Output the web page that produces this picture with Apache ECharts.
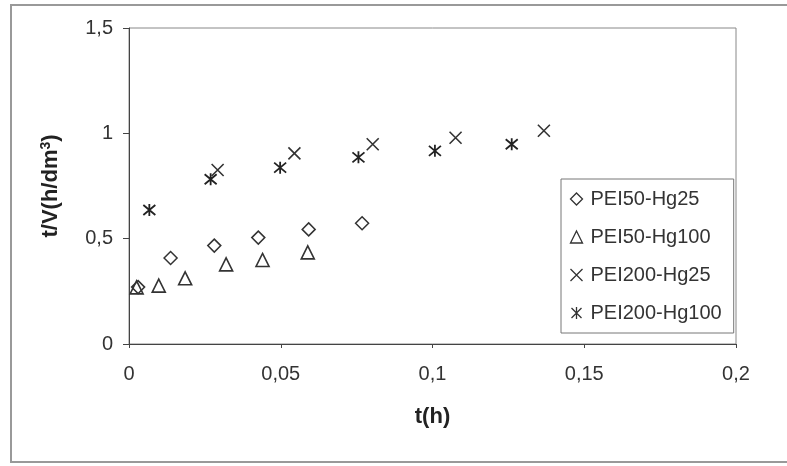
<!DOCTYPE html>
<html>
<head>
<meta charset="utf-8">
<script src="https://cdn.jsdelivr.net/npm/echarts@6/dist/echarts.min.js"></script>
<style>
html,body{margin:0;padding:0;background:#fff;}
#c{width:787px;height:466px;}
</style>
</head>
<body>
<div id="c"></div>
<script>
// ---- data ----
const seriesNames = ['PEI50-Hg25', 'PEI50-Hg100', 'PEI200-Hg25', 'PEI200-Hg100'];
const pei50Hg25_t  = [0.003, 0.0137, 0.0281, 0.0426, 0.0592, 0.0768];
const pei50Hg25_v  = [0.27, 0.408, 0.467, 0.505, 0.544, 0.573];
const pei50Hg100_t = [0.0025, 0.0098, 0.0185, 0.032, 0.044, 0.0589];
const pei50Hg100_v = [0.269, 0.277, 0.312, 0.378, 0.399, 0.435];
const pei200Hg25_t = [0.0292, 0.0545, 0.0803, 0.1076, 0.1367];
const pei200Hg25_v = [0.826, 0.905, 0.948, 0.979, 1.012];
const pei200Hg100_t = [0.0067, 0.0269, 0.0498, 0.0756, 0.1008, 0.1261];
const pei200Hg100_v = [0.636, 0.782, 0.837, 0.886, 0.917, 0.948];
const xTicks = [0, 0.05, 0.1, 0.15, 0.2];
const yTicks = [0, 0.5, 1, 1.5];

const zip = (a, b) => a.map((v, i) => [v, b[i]]);
const fmt = v => String(+v.toFixed(4)).replace('.', ',');
const FONT = 'Liberation Sans, Arial, sans-serif';
const INK = '#333';

const xPath = 'path://M0 0L10 10M10 0L0 10';
const astPath = 'path://M0 0L10 10M10 0L0 10M5 -1L5 11';

const chart = echarts.init(document.getElementById('c'), null, {renderer: 'canvas'});
chart.setOption({
  backgroundColor: '#fff',
  animation: false,
  textStyle: {fontFamily: FONT},
  graphic: [{
    type: 'rect', silent: true, z: -10,
    shape: {x: 11, y: 5, width: 800, height: 457},
    style: {fill: 'none', stroke: '#999', lineWidth: 2}
  }],
  grid: {
    left: 129, top: 28, right: 51, bottom: 122,
    show: true, borderColor: '#888', borderWidth: 1, backgroundColor: 'transparent'
  },
  xAxis: {
    type: 'value', min: xTicks[0], max: xTicks[xTicks.length - 1], interval: 0.05,
    splitLine: {show: false},
    axisLine: {show: true, onZero: false, lineStyle: {color: '#444', width: 1}},
    axisTick: {show: true, inside: false, length: 4, lineStyle: {color: '#444'}},
    axisLabel: {fontSize: 20, color: INK, margin: 20, formatter: fmt, fontFamily: FONT},
    name: 't(h)', nameLocation: 'middle', nameGap: 62,
    nameTextStyle: {fontSize: 22, fontWeight: 'bold', color: '#222', fontFamily: FONT}
  },
  yAxis: {
    type: 'value', min: yTicks[0], max: yTicks[yTicks.length - 1], interval: 0.5,
    splitLine: {show: false},
    axisLine: {show: true, onZero: false, lineStyle: {color: '#444', width: 1}},
    axisTick: {show: true, inside: false, length: 6, lineStyle: {color: '#444'}},
    axisLabel: {fontSize: 20, color: INK, margin: 16, formatter: fmt, fontFamily: FONT},
    name: '{a|t/V(h/dm}{s|3}{a|)}', nameLocation: 'middle', nameGap: 66, nameRotate: 90,
    nameTextStyle: {
      fontFamily: FONT,
      rich: {
        a: {fontSize: 22, fontWeight: 'bold', color: '#222', fontFamily: FONT},
        s: {fontSize: 14, fontWeight: 'bold', color: '#222', fontFamily: FONT, verticalAlign: 'top', padding: [0, 0, 10, 0]}
      }
    }
  },
  legend: {
    orient: 'vertical', left: 561, top: 179,
    padding: [10, 12, 10, 7],
    itemGap: 18, itemWidth: 12, itemHeight: 12,
    borderColor: '#777', borderWidth: 1, backgroundColor: '#fff',
    textStyle: {fontSize: 20, color: INK, fontFamily: FONT, padding: [0, 0, 0, 3]},
    data: [
      {name: seriesNames[0], icon: 'diamond', itemStyle: {color: '#fff', borderColor: INK, borderWidth: 1.3}},
      {name: seriesNames[1], icon: 'triangle', itemStyle: {color: '#fff', borderColor: INK, borderWidth: 1.3}},
      {name: seriesNames[2], icon: xPath, itemStyle: {color: 'none', borderColor: INK, borderWidth: 1.3}},
      {name: seriesNames[3], icon: astPath, itemStyle: {color: 'none', borderColor: INK, borderWidth: 1.3}}
    ]
  },
  series: [
    {
      name: seriesNames[0], type: 'scatter', symbol: 'diamond', symbolSize: 13,
      itemStyle: {color: '#fff', borderColor: INK, borderWidth: 1.5, opacity: 1},
      data: zip(pei50Hg25_t, pei50Hg25_v)
    },
    {
      name: seriesNames[1], type: 'scatter', symbol: 'triangle', symbolSize: 13,
      itemStyle: {color: 'rgba(255,255,255,0)', borderColor: INK, borderWidth: 1.6, opacity: 1},
      data: zip(pei50Hg100_t, pei50Hg100_v)
    },
    {
      name: seriesNames[2], type: 'scatter', symbol: xPath, symbolSize: 12,
      itemStyle: {color: 'none', borderColor: INK, borderWidth: 1.6, opacity: 1},
      data: zip(pei200Hg25_t, pei200Hg25_v)
    },
    {
      name: seriesNames[3], type: 'scatter', symbol: astPath, symbolSize: 12,
      itemStyle: {color: 'none', borderColor: '#222', borderWidth: 1.8, opacity: 1},
      data: zip(pei200Hg100_t, pei200Hg100_v)
    }
  ]
});
</script>
</body>
</html>
